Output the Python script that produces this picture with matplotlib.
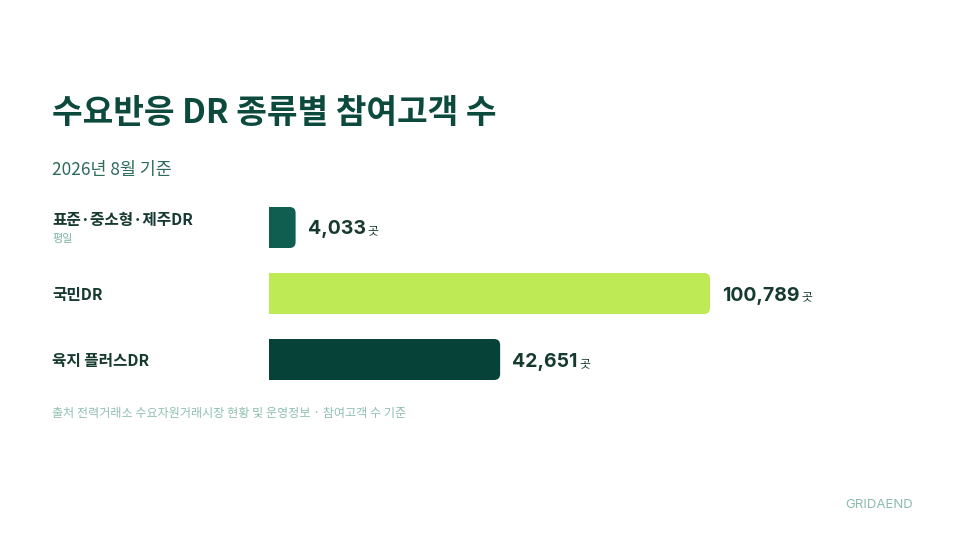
import matplotlib
matplotlib.use('Agg')
import matplotlib.pyplot as plt
import numpy as np
from matplotlib.patches import PathPatch
from matplotlib.path import Path
from matplotlib.transforms import IdentityTransform

W, H = 966, 543
title = '수요반응 DR 종류별 참여고객 수'
subtitle = '2026년 8월 기준'
categories = ['표준·중소형·제주DR', '국민DR', '육지 플러스DR']
sublabels = ['평일', '', '']
values = [4033, 100789, 42651]
unit = '곳'
source = '출처 전력거래소 수요자원거래시장 현황 및 운영정보 · 참여고객 수 기준'
brand = 'GRIDAEND'
colors = ['#0f5e4f', '#bdea55', '#074239']

KR = ['Noto Sans CJK KR', 'DejaVu Sans']
NUM = ['Inter', 'Noto Sans CJK KR', 'DejaVu Sans']
plt.rcParams['font.family'] = KR

fig = plt.figure(figsize=(W / 100, H / 100), dpi=100)
fig.patch.set_facecolor('white')

C = 80000.0
ax = fig.add_axes([269 / W, 1 - 393 / H, 441 / W, 198.75 / H])
ax.set_xscale('function', functions=(lambda x: np.log1p(np.maximum(x, 0) / C),
                                     lambda y: C * np.expm1(y)))
ax.set_xlim(0, max(values))
ax.set_ylim(len(values) - 0.5, -0.5)
ax.axis('off')


def right_rounded(x0, y0, x1, y1, r):
    verts = [(x0, y0), (x1 - r, y0), (x1, y0), (x1, y0 + r), (x1, y1 - r),
             (x1, y1), (x1 - r, y1), (x0, y1), (x0, y0)]
    codes = [Path.MOVETO, Path.LINETO, Path.CURVE3, Path.CURVE3, Path.LINETO,
             Path.CURVE3, Path.CURVE3, Path.LINETO, Path.CLOSEPOLY]
    return Path(verts, codes)


bh = 0.62
r = 6
for i, v in enumerate(values):
    (x0, ya) = ax.transData.transform((0, i - bh / 2))
    (x1, yb) = ax.transData.transform((v, i + bh / 2))
    y0, y1 = round(min(ya, yb)), round(max(ya, yb))
    x0 = round(x0)
    rr = min(r, (x1 - x0) / 2)
    fig.add_artist(PathPatch(right_rounded(x0, y0, x1, y1, rr),
                             transform=IdentityTransform(),
                             facecolor=colors[i], edgecolor='none'))

# titles
fig.text(52 / W, 1 - 123 / H, title, fontsize=24, fontweight='bold',
         color='#0b4a3c', va='baseline', ha='left')
fig.text(52 / W, 1 - 175 / H, subtitle, fontsize=12.5, color='#2d6b5a',
         va='baseline', ha='left')

# category labels
for i, (cat, sub) in enumerate(zip(categories, sublabels)):
    off = 8 if sub else 0
    ax.annotate(cat, xy=(52 / W, i), xycoords=('figure fraction', 'data'),
                xytext=(0, off - 6), textcoords='offset pixels', va='baseline',
                ha='left', fontsize=11.3, fontweight='bold', color='#163a30',
                annotation_clip=False)
    if sub:
        ax.annotate(sub, xy=(52 / W, i), xycoords=('figure fraction', 'data'),
                    xytext=(0, -15), textcoords='offset pixels', va='baseline',
                    ha='left', fontsize=8, color='#7fb3a0', annotation_clip=False)

# value labels
num_texts = []
for i, v in enumerate(values):
    t = ax.annotate(f'{v:,}', xy=(v, i), xytext=(12, -7), textcoords='offset pixels',
                    va='baseline', ha='left', fontsize=14, fontweight='bold',
                    color='#163a30', family=NUM, annotation_clip=False)
    num_texts.append(t)

fig.canvas.draw()
renderer = fig.canvas.get_renderer()
for t in num_texts:
    bb = t.get_window_extent(renderer)
    tx, ty = ax.transData.transform(t.xy)
    fig.text(bb.x1 + 2, ty - 7, unit, transform=IdentityTransform(), fontsize=8.5,
             color='#163a30', va='baseline', ha='left')

fig.text(52 / W, 1 - 417 / H, source, fontsize=8.7, color='#8fc0ae',
         va='baseline', ha='left')
fig.text(913 / W, 1 - 508 / H, brand, fontsize=9.5, color='#8cbcaa',
         va='baseline', ha='right', family=NUM)

fig.savefig('out.png', dpi=100, facecolor='white')
